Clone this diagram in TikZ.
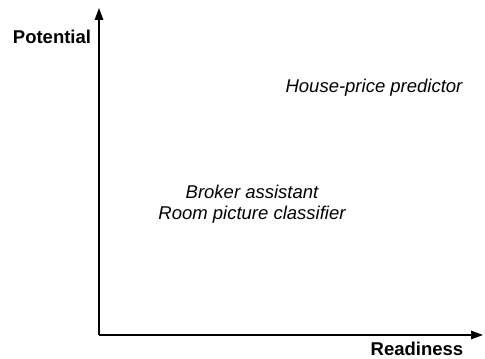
\documentclass[tikz,border=0pt]{standalone}
\usepackage{fontspec}
\setmainfont{Liberation Sans}
\usetikzlibrary{arrows.meta,positioning}

\begin{document}
\begin{tikzpicture}[
  x=1pt,y=1pt,
  every node/.style={font=\fontsize{18.5}{21}\selectfont,align=center,inner sep=0pt},
  axis/.style={line width=1.3pt,-{Triangle[length=12pt,width=8.5pt]}},
  axlabel/.style={font=\fontsize{18.5}{21}\selectfont\bfseries,anchor=base},
  item/.style={font=\fontsize{18.5}{21}\selectfont\itshape}
]
  \useasboundingbox (0,0) rectangle (485,359);

  % Axes
  \coordinate (origin) at (99,24);
  \coordinate (ytip) at (99,351);
  \coordinate (xtip) at (483,24);
  \draw[axis] (origin) -- (ytip);
  \draw[axis] (origin) -- (xtip);

  \node[axlabel] (potential) at (52,315) {Potential};
  \node[axlabel] (readiness) at (417,3) {Readiness};

  % Projects
  \node[item] (house) at (374,271) {House-price predictor};
  \node[item] (broker) at (252,155) {Broker assistant\\Room picture classifier};
\end{tikzpicture}
\end{document}
